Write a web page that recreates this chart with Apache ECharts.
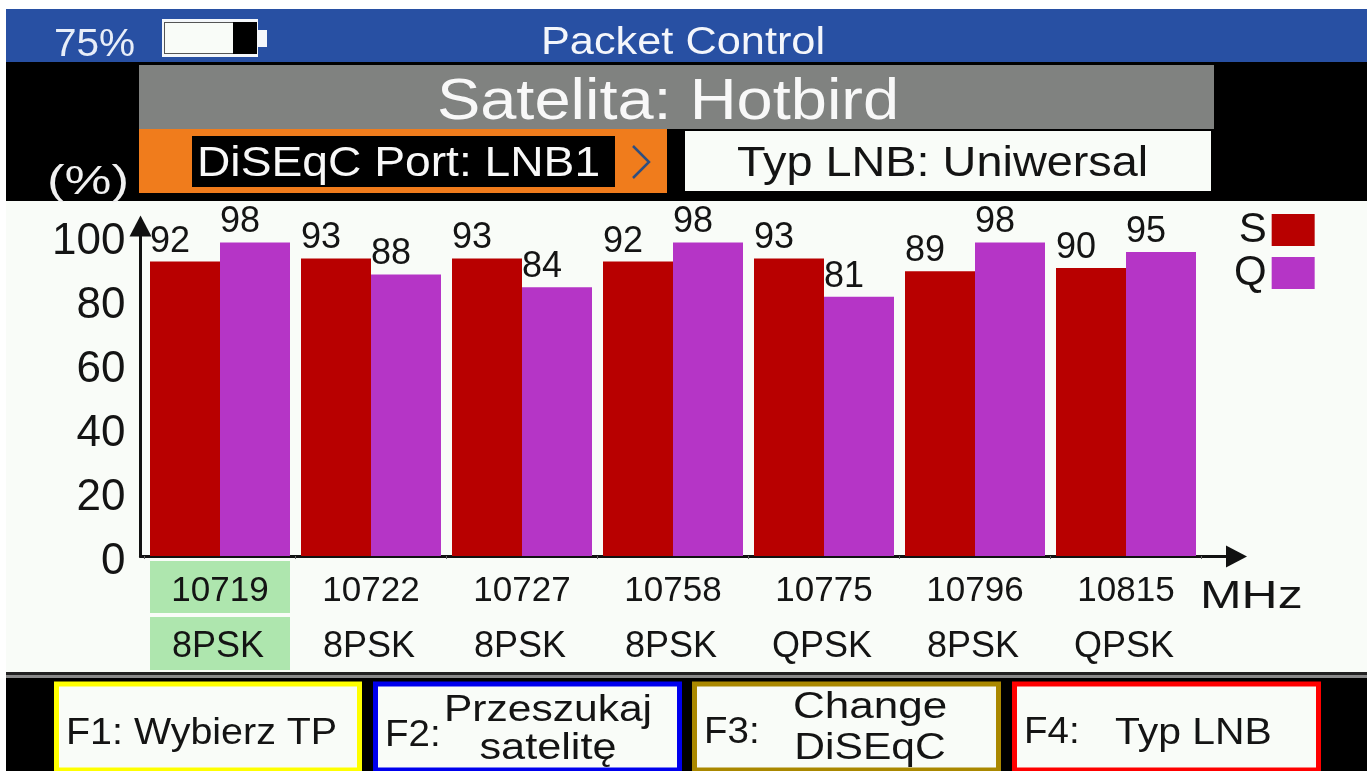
<!DOCTYPE html>
<html>
<head>
<meta charset="utf-8">
<title>Packet Control</title>
<style>
    html, body { margin: 0; padding: 0; background: #fff; }
    #chart { width: 1367px; height: 771px; }
</style>
<script src="https://cdn.jsdelivr.net/npm/echarts@6/dist/echarts.min.js"></script>
</head>
<body>
<div id="chart"></div>
<script>
var frequencies = ['10719', '10722', '10727', '10758', '10775', '10796', '10815'];
var modulations = ['8PSK', '8PSK', '8PSK', '8PSK', 'QPSK', '8PSK', 'QPSK'];
var sValues = [92, 93, 93, 92, 93, 89, 90];
var qValues = [98, 88, 84, 98, 81, 98, 95];

var FONT = '"Liberation Sans", Arial, sans-serif';
var INK = '#141414';
var PANEL = '#f9fcf8';

function rect(x, y, w, h, fill, stroke, lineWidth) {
    return {
        type: 'rect',
        z: -10,
        shape: { x: x, y: y, width: w, height: h },
        style: { fill: fill, stroke: stroke || null, lineWidth: lineWidth || 0 }
    };
}

// screen font is stretched sideways, so sx widens the text a bit
function txt(text, x, y, size, color, align, sx) {
    return {
        type: 'text',
        z: 10,
        x: x,
        y: y,
        scaleX: sx || 1,
        style: {
            text: text,
            fontFamily: FONT,
            fontSize: size,
            fill: color,
            textAlign: align || 'left',
            textVerticalAlign: 'middle'
        }
    };
}

function fKey(x, w, color) {
    return rect(x + 2.5, 684, w - 5, 86, PANEL, color, 5);
}

var chrome = [
    rect(6, 9, 1361, 53, '#2850a3'),
    rect(6, 62, 1361, 140, '#000000'),
    rect(139, 65, 1075, 64, '#808280'),
    rect(139, 129, 528, 64, '#f07c1c'),
    rect(192, 136, 423, 51, '#000000'),
    rect(685, 131, 526, 60, PANEL),
    rect(6, 201, 1361, 471, PANEL),
    rect(6, 672, 1361, 3, '#222222'),
    rect(6, 675, 1361, 3, '#8a8a8a'),
    rect(6, 678, 1361, 93, '#000000'),

    // battery
    rect(162, 19, 96, 38, '#f4f7fb'),
    rect(164, 22, 92, 32, '#555555'),
    rect(165, 23, 68, 30, PANEL),
    rect(233, 22, 24, 32, '#000000'),
    rect(258, 30, 9, 17, '#f4f7fb'),

    {
        type: 'polyline',
        z: 10,
        shape: { points: [[633, 146], [649, 162], [633, 178]] },
        style: { fill: null, stroke: '#2f4f80', lineWidth: 2.5 }
    },

    fKey(54, 308, '#ffff00'),
    fKey(373, 309, '#0000ee'),
    fKey(692, 309, '#aa8800'),
    fKey(1012, 309, '#ff0000'),

    txt('75%', 54, 45, 39, '#e8eef8', 'left', 1.04),
    txt('Packet Control', 683, 44, 38, '#f4f6fb', 'center', 1.14),
    txt('Satelita: Hotbird', 668, 103, 58, '#f8f8f8', 'center', 1.12),
    txt('(%)', 47, 183, 40, '#f0f0f0', 'left', 1.32),
    txt('DiSEqC Port: LNB1', 197, 164, 42, '#f8f8f8', 'left', 1.1),
    txt('Typ LNB: Uniwersal', 737, 164, 42, INK, 'left', 1.115),
    txt('MHz', 1200, 597, 39, INK, 'left', 1.28),

    txt('F1: Wybierz TP', 66, 734, 37, INK, 'left', 1.065),
    txt('F2:', 385, 736, 37, INK, 'left', 1.04),
    txt('Przeszukaj', 548, 711, 37, INK, 'center', 1.15),
    txt('satelitę', 548, 749, 37, INK, 'center', 1.17),
    txt('F3:', 704, 733, 37, INK, 'left', 1.04),
    txt('Change', 870, 708, 37, INK, 'center', 1.19),
    txt('DiSEqC', 870, 749, 37, INK, 'center', 1.15),
    txt('F4:', 1024, 733, 37, INK, 'left', 1.04),
    txt('Typ LNB', 1115, 734, 37, INK, 'left', 1.105)
];

function cellLabel(value, index) {
    return (index === 0 ? '{sel|' : '{cell|') + value + '}';
}

function cellRich(size, height, nudge) {
    return {
        cell: { width: 140 - nudge, height: height, padding: [8, nudge, 0, 0], align: 'center', fontFamily: FONT, fontSize: size, color: INK },
        sel: { width: 140 - nudge, height: height, padding: [8, nudge, 0, 0], align: 'center', fontFamily: FONT, fontSize: size, color: INK, backgroundColor: '#aee6ae' }
    };
}

function barSeries(name, values, color) {
    return {
        name: name,
        type: 'bar',
        xAxisIndex: 0,
        yAxisIndex: 0,
        data: values,
        barWidth: 70,
        barGap: 0,
        itemStyle: { color: color },
        label: {
            show: true,
            position: 'top',
            align: 'left',
            offset: [-35, 3],
            fontFamily: FONT,
            fontSize: 36,
            color: INK
        }
    };
}

var chart = echarts.init(document.getElementById('chart'), null, { renderer: 'canvas' });
chart.setOption({
    animation: false,
    backgroundColor: '#ffffff',
    grid: [
        { left: 144.5, top: 236, width: 1057, height: 320 },
        // only carries the two arrow axes, they run past the bars
        { left: 140.5, top: 226, width: 1096, height: 330.5 }
    ],
    legend: {
        data: ['S', 'Q'],
        orient: 'vertical',
        align: 'right',
        left: 1229,
        top: 204,
        itemWidth: 43,
        itemHeight: 32,
        itemGap: 1,
        icon: 'rect',
        selectedMode: false,
        textStyle: { fontFamily: FONT, fontSize: 42, color: INK }
    },
    xAxis: [
        {
            type: 'category',
            gridIndex: 0,
            data: frequencies,
            axisLine: { show: false },
            axisTick: { show: true, length: 3, lineStyle: { color: '#666666', width: 1 } },
            axisLabel: { margin: 5, interval: 0, formatter: cellLabel, rich: cellRich(35, 44, 0) }
        },
        {
            type: 'category',
            gridIndex: 0,
            position: 'bottom',
            offset: 56,
            data: modulations,
            axisLine: { show: false },
            axisTick: { show: false },
            axisLabel: { margin: 5, interval: 0, formatter: cellLabel, rich: cellRich(36, 45, 4) }
        },
        {
            type: 'value',
            gridIndex: 1,
            min: 0,
            max: 1,
            axisLine: {
                show: true,
                symbol: ['none', 'triangle'],
                symbolSize: [22, 21],
                lineStyle: { color: '#111111', width: 3 }
            },
            axisTick: { show: false },
            axisLabel: { show: false },
            splitLine: { show: false }
        }
    ],
    yAxis: [
        {
            type: 'value',
            gridIndex: 0,
            min: 0,
            max: 100,
            interval: 20,
            axisLine: { show: false },
            axisTick: { show: false },
            splitLine: { show: false },
            axisLabel: {
                margin: 19,
                formatter: '{v|{value}}',
                rich: { v: { height: 44, padding: [12, 0, 0, 0], fontFamily: FONT, fontSize: 44, color: INK } }
            }
        },
        {
            type: 'value',
            gridIndex: 1,
            min: 0,
            max: 1,
            axisLine: {
                show: true,
                symbol: ['none', 'triangle'],
                symbolSize: [22, 21],
                lineStyle: { color: '#111111', width: 3 }
            },
            axisTick: { show: false },
            axisLabel: { show: false },
            splitLine: { show: false }
        }
    ],
    series: [
        barSeries('S', sValues, '#b80000'),
        barSeries('Q', qValues, '#b535c6')
    ],
    graphic: { elements: chrome }
});
</script>
</body>
</html>
